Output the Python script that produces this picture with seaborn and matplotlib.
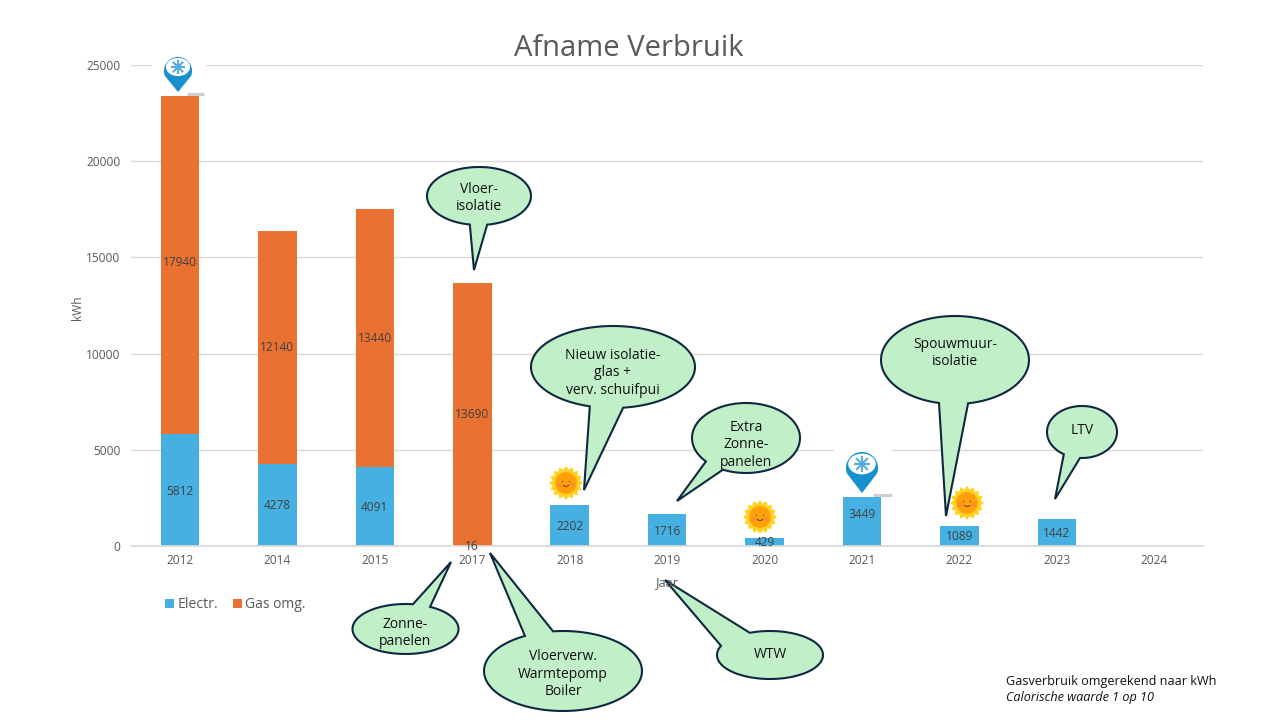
import numpy as np
import pandas as pd
import matplotlib.pyplot as plt
from matplotlib.patches import Polygon, Circle, Ellipse, Rectangle, Arc
import seaborn as sns

years = ["2012", "2014", "2015", "2017", "2018", "2019", "2020", "2021", "2022", "2023", "2024"]
# bar heights as drawn in the picture
electr = [5812, 4278, 4091, 16, 2130, 1663, 429, 2550, 1040, 1420, 0]
gas = [17580, 12110, 13420, 13650, 0, 0, 0, 0, 0, 0, 0]
# printed labels (some differ from the drawn bar)
electr_labels = ["5812", "4278", "4091", "", "2202", "1716", "429", "3449", "1089", "1442", ""]
gas_labels = ["17940", "12140", "13440", "13690", "", "", "", "", "", "", ""]
y_ticks = [0, 5000, 10000, 15000, 20000, 25000]

BLUE = "#45B0E1"
ORANGE = "#E97132"
GREY = "#595959"
GRID = "#D9D9D9"
FILL = "#C1F0C8"
EDGE = "#0E2841"

sns.set_theme(style="whitegrid")
plt.rcParams["font.family"] = ["Open Sans", "DejaVu Sans"]

df = pd.DataFrame({"Jaar": years, "Electr": electr, "Gas": gas})
df["Totaal"] = df["Electr"] + df["Gas"]

fig = plt.figure(figsize=(12.8, 7.2), dpi=100, facecolor="white")
ax = fig.add_axes([131.3 / 1280, 174 / 720, 1071.7 / 1280, 481 / 720])

# stacked by drawing the total first, electr on top
sns.barplot(data=df, x="Jaar", y="Totaal", color=ORANGE, saturation=1, width=0.395, linewidth=0, ax=ax)
sns.barplot(data=df, x="Jaar", y="Electr", color=BLUE, saturation=1, width=0.395, linewidth=0, ax=ax)

ax.set_xlim(-0.5, 10.5)
ax.set_ylim(0, 25000)
ax.set_yticks(y_ticks)
ax.set_xlabel("")
ax.set_ylabel("")
ax.grid(axis="y", color=GRID, lw=1)
ax.grid(axis="x", visible=False)
ax.set_axisbelow(True)
sns.despine(ax=ax, left=True, top=True, right=True)
ax.spines["bottom"].set_color(GRID)
ax.tick_params(axis="x", length=0, labelsize=8.6, labelcolor=GREY, pad=6)
ax.tick_params(axis="y", length=0, labelsize=8.6, labelcolor=GREY, pad=8)

for i, lab in enumerate(electr_labels):
    if lab:
        # the 2021 label sits a bit higher than the middle of its bar
        off = 7 if years[i] == "2021" else -1
        ax.annotate(lab, (i, electr[i] / 2), xytext=(0, off), textcoords="offset pixels",
                    ha="center", va="center", fontsize=8.6, color="#404040")
for i, lab in enumerate(gas_labels):
    if lab:
        ax.annotate(lab, (i, electr[i] + float(lab) / 2), xytext=(0, -1), textcoords="offset pixels",
                    ha="center", va="center", fontsize=8.6, color="#404040")
ax.text(3, 0, "16", ha="center", va="center", fontsize=8.6, color="#404040", clip_on=False)

# overlay in pixel coordinates for the shapes around the chart
ov = fig.add_axes([0, 0, 1, 1], zorder=5)
ov.set_xlim(0, 1280)
ov.set_ylim(720, 0)
ov.axis("off")
ov.patch.set_alpha(0)


def callout(cx, cy, rx, ry, tip, b1, b2, lines, ty, fs=10):
    a1 = np.arctan2((b1[1] - cy) / ry, (b1[0] - cx) / rx)
    a2 = np.arctan2((b2[1] - cy) / ry, (b2[0] - cx) / rx)
    # walk the long way round the ellipse, the tail closes the short gap
    if (a2 - a1) % (2 * np.pi) > np.pi:
        a1, a2 = a2, a1
    t = np.linspace(a2, a2 + 2 * np.pi - ((a2 - a1) % (2 * np.pi)), 120)
    pts = np.c_[cx + rx * np.cos(t), cy + ry * np.sin(t)]
    pts = np.vstack([pts, tip])
    ov.add_patch(Polygon(pts, closed=True, fc=FILL, ec=EDGE, lw=1.5, joinstyle="miter"))
    ov.text(cx, ty, lines, ha="center", va="center", fontsize=fs, color="#111111", linespacing=1.2)


callout(479, 196, 52, 29, (474, 270), (470, 224), (487, 224), "Vloer-\nisolatie", 198)
callout(613, 367, 82, 41, (584, 490), (590, 406), (623, 407), "Nieuw isolatie-\nglas +\nverv. schuifpui", 373)
callout(746, 438, 54, 35, (677, 501), (705, 462), (722, 471), "Extra\nZonne-\npanelen", 445)
callout(955, 360, 74, 44, (946, 516), (939, 403), (968, 403), "Spouwmuur-\nisolatie", 353)
callout(1082, 432, 35, 26, (1055, 499), (1064, 454), (1080, 458), "LTV", 430)
callout(405.5, 629, 53, 25, (451, 562), (413, 604), (431, 606), "Zonne-\npanelen", 633)
callout(563, 671, 79, 40, (490, 553), (525, 636), (553, 631), "Vloerverw.\nWarmtepomp\nBoiler", 674)
callout(770, 655, 53, 24, (665, 580), (722, 646), (750, 633), "WTW", 654)


def sun(x, y, r=17):
    t = np.linspace(0, 2 * np.pi, 33)[:-1]
    rad = np.where(np.arange(32) % 2 == 0, r, r * 0.8)
    ov.add_patch(Polygon(np.c_[x + rad * np.cos(t), y + rad * np.sin(t)], fc="#FFD21F", ec="none"))
    ov.add_patch(Circle((x, y), r * 0.64, fc="#FF9F0A", ec="none"))
    ov.add_patch(Circle((x - 6.5, y + 2), 2, fc="#F58A3C", ec="none"))
    ov.add_patch(Circle((x + 6.5, y + 2), 2, fc="#F58A3C", ec="none"))
    ov.add_patch(Circle((x - 3.5, y - 1.5), 0.7, fc="#7A4A10", ec="none"))
    ov.add_patch(Circle((x + 3.5, y - 1.5), 0.7, fc="#7A4A10", ec="none"))
    ov.add_patch(Arc((x, y + 1), 6, 5, theta1=20, theta2=160, color="#7A4A10", lw=0.8))


def pin(x, y, r, tip_y, dash):
    ov.add_patch(Rectangle((x - r - 12, y - r - 4), 2 * r + 26, 2 * r, fc="white", ec="none"))
    t = np.linspace(np.deg2rad(-200), np.deg2rad(20), 60)
    pts = np.c_[x + r * np.cos(t), y + r * np.sin(t)]
    pts = np.vstack([pts, (x, tip_y)])
    ov.add_patch(Polygon(pts, fc="#1690CF", ec="none"))
    yc = y - 4
    ov.add_patch(Ellipse((x, yc), r * 1.72, r * 1.3, fc="white", ec="none"))
    for a in np.arange(0, 180, 45):
        dx, dy = r * 0.52 * np.cos(np.deg2rad(a)), r * 0.52 * np.sin(np.deg2rad(a))
        ov.plot([x - dx, x + dx], [yc - dy, yc + dy], color="#55ABDE", lw=1.5, solid_capstyle="butt")
    ov.add_patch(Circle((x, yc), r * 0.2, fc="#3F9CD6", ec="none"))
    ov.plot(dash[:2], [dash[2], dash[2]], color="#CFCFCF", lw=2.2, solid_capstyle="butt")


sun(566, 483)
sun(760, 517)
sun(967, 503)
pin(178, 71, 14, 92, (187, 204, 94))
pin(862, 468, 16, 493, (873, 892, 495))

# titles, legend and the note
ov.text(629, 48, "Afname Verbruik", ha="center", va="center", fontsize=21, color=GREY)
ov.text(77, 308, "kWh", rotation=90, ha="center", va="center", fontsize=8.6, color=GREY)
ov.text(667, 583, "Jaar", ha="center", va="center", fontsize=9.2, color=GREY)
ov.add_patch(Rectangle((165, 599), 9, 9, fc=BLUE, ec="none"))
ov.text(178, 604, "Electr.", ha="left", va="center", fontsize=10.2, color=GREY)
ov.add_patch(Rectangle((233, 599), 9, 9, fc=ORANGE, ec="none"))
ov.text(245, 604, "Gas omg.", ha="left", va="center", fontsize=10, color=GREY)
ov.text(1006, 682, "Gasverbruik omgerekend naar kWh", ha="left", va="center", fontsize=9.1, color="#111111")
ov.text(1006, 698, "Calorische waarde 1 op 10", ha="left", va="center", fontsize=9.1, color="#111111", style="italic")

fig.savefig("out.png", dpi=100)
